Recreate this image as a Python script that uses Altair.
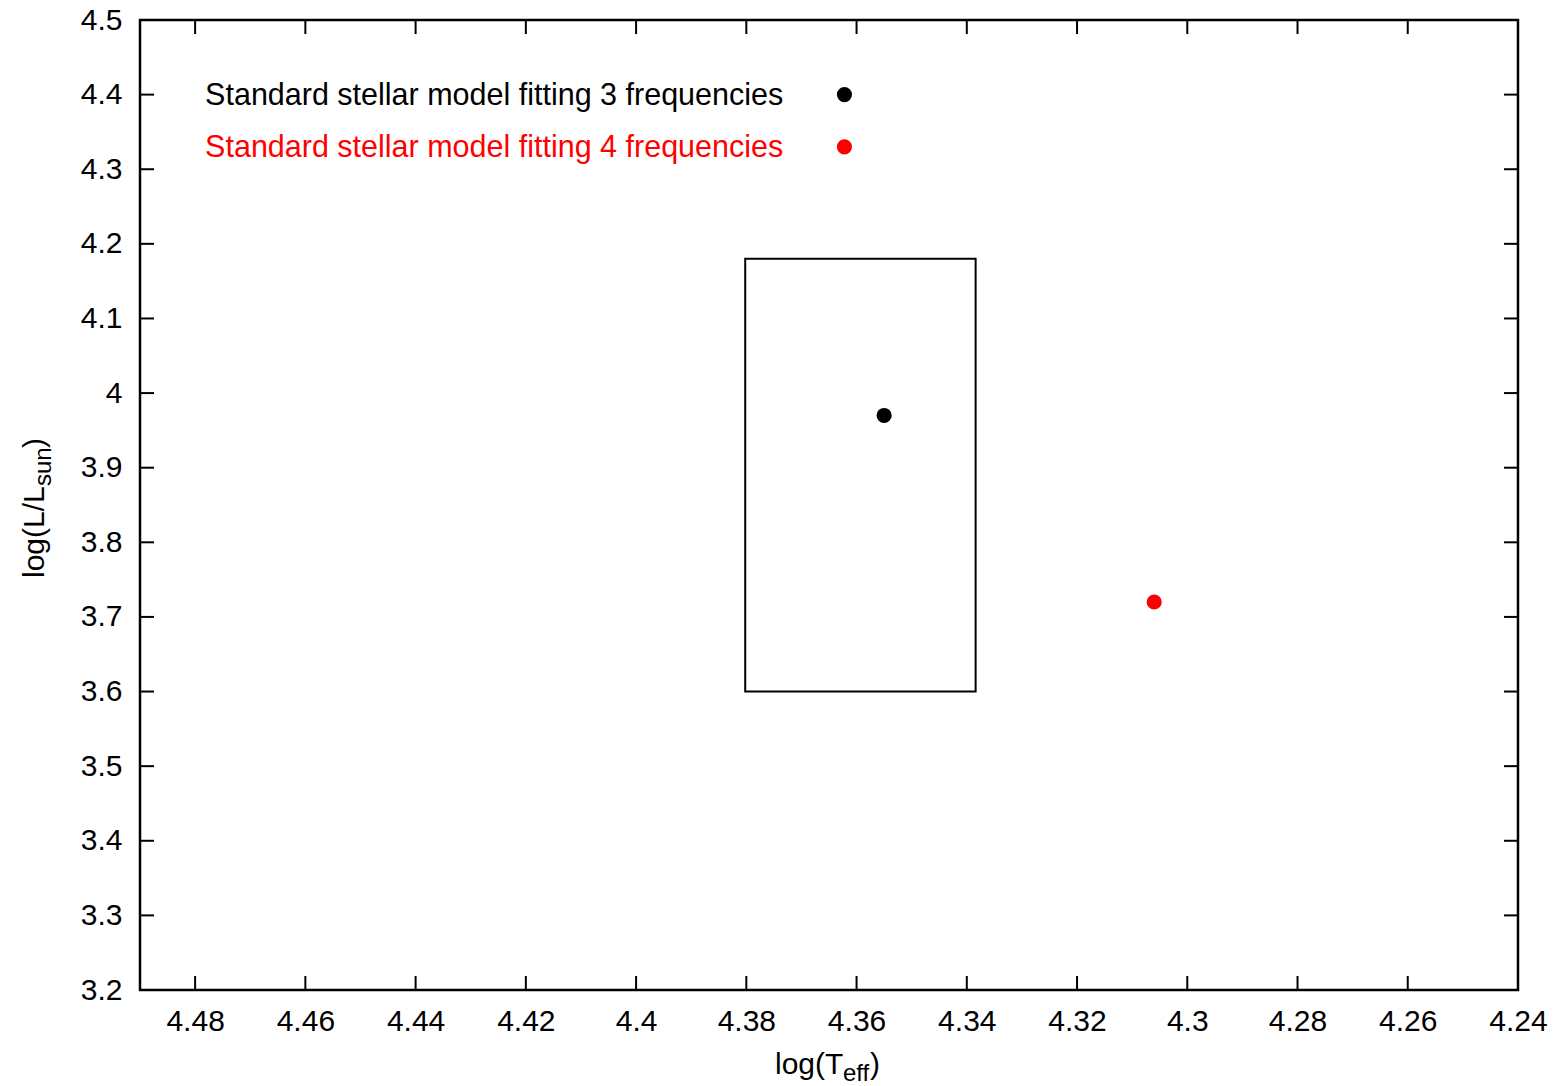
import altair as alt
import pandas as pd

# ---- data ----
x_ticks = [4.48, 4.46, 4.44, 4.42, 4.40, 4.38, 4.36, 4.34, 4.32, 4.30, 4.28, 4.26, 4.24]
y_ticks = [3.2, 3.3, 3.4, 3.5, 3.6, 3.7, 3.8, 3.9, 4.0, 4.1, 4.2, 4.3, 4.4, 4.5]

box_teff = [4.3802, 4.3384]   # log(Teff) range of observational box
box_lum = [3.60, 4.18]        # log(L/Lsun) range of observational box

model_names = ["Standard stellar model fitting 3 frequencies",
               "Standard stellar model fitting 4 frequencies"]
model_teff = [4.355, 4.306]
model_lum = [3.97, 3.72]
model_colors = ["#000000", "#ff0000"]

legend_lum = [4.40, 4.33]
legend_text_teff = 4.3733
legend_point_teff = 4.3622

W, H = 1378, 970
FONT = "Liberation Sans"

xscale = alt.Scale(domain=[4.49, 4.24], zero=False, nice=False)
yscale = alt.Scale(domain=[3.2, 4.5], zero=False, nice=False)
xaxis = alt.Axis(values=x_ticks, format="~g", title=None, grid=False, ticks=False, tickSize=0,
                 domain=False, labelFontSize=30, labelFont=FONT, labelColor="black",
                 labelPadding=16, labelFlush=False, labelOverlap=False)
yaxis = alt.Axis(values=y_ticks, format="~g", title=None, grid=False, ticks=False, tickSize=0,
                 domain=False, labelFontSize=30, labelFont=FONT, labelColor="black",
                 labelPadding=18, labelFlush=False, labelOverlap=False)

def X(f):
    return alt.X(f, type="quantitative", scale=xscale, axis=xaxis)

def Y(f):
    return alt.Y(f, type="quantitative", scale=yscale, axis=yaxis)

box_df = pd.DataFrame({"x": [box_teff[0]], "x2": [box_teff[1]],
                       "y": [box_lum[0]], "y2": [box_lum[1]]})
box = alt.Chart(box_df).mark_rect(fillOpacity=0, stroke="black", strokeWidth=2).encode(
    x=X("x"), x2="x2", y=Y("y"), y2="y2")

pts_df = pd.DataFrame({"x": model_teff, "y": model_lum, "name": model_names, "c": model_colors})
pts = alt.Chart(pts_df).mark_circle(size=230, opacity=1).encode(
    x=X("x"), y=Y("y"), color=alt.Color("c:N", scale=None))

leg_df = pd.DataFrame({"x": [legend_text_teff] * 2, "xp": [legend_point_teff] * 2,
                       "y": legend_lum, "name": model_names, "c": model_colors})
leg_text = alt.Chart(leg_df).mark_text(align="right", baseline="middle", fontSize=30.5, font=FONT, dy=1).encode(
    x=X("x"), y=Y("y"), text="name:N", color=alt.Color("c:N", scale=None))
leg_pts = alt.Chart(leg_df).mark_circle(size=230, opacity=1).encode(
    x=X("xp"), y=Y("y"), color=alt.Color("c:N", scale=None))

xt_df = pd.DataFrame({"x": x_ticks})
yt_df = pd.DataFrame({"y": y_ticks})
tick_style = dict(color="black", strokeWidth=2)
tb = alt.Chart(xt_df).mark_rule(**tick_style).encode(x=X("x"), y=alt.value(H), y2=alt.value(H - 14))
tt = alt.Chart(xt_df).mark_rule(**tick_style).encode(x=X("x"), y=alt.value(0), y2=alt.value(14))
tl = alt.Chart(yt_df).mark_rule(**tick_style).encode(y=Y("y"), x=alt.value(0), x2=alt.value(14))
tr = alt.Chart(yt_df).mark_rule(**tick_style).encode(y=Y("y"), x=alt.value(W), x2=alt.value(W - 14))

# axis titles with subscripts
def txt(s, x, y, size, angle=0):
    return alt.Chart(pd.DataFrame({"t": [s]})).mark_text(
        align="left", baseline="alphabetic", fontSize=size, font=FONT, color="black", angle=angle
    ).encode(text="t:N", x=alt.value(x), y=alt.value(y))

xt1 = txt("log(T", 635, 1054, 30)
xt2 = txt("eff", 703, 1061, 24)
xt3 = txt(")", 730, 1054, 30)
yt1 = txt("log(L/L", -96, 558, 30, 270)
yt2 = txt("sun", -89, 466, 24, 270)
yt3 = txt(")", -96, 428, 30, 270)

chart = alt.layer(box, tb, tt, tl, tr, pts, leg_text, leg_pts,
                  xt1, xt2, xt3, yt1, yt2, yt3).properties(
    width=W, height=H,
    autosize=alt.AutoSizeParams(type="none"),
    padding={"left": 140, "top": 20, "right": 49, "bottom": 96},
    background="white",
).configure_view(stroke="black", strokeWidth=2.5)

chart.save("out.html", embed_options={"renderer": "svg", "actions": False})
